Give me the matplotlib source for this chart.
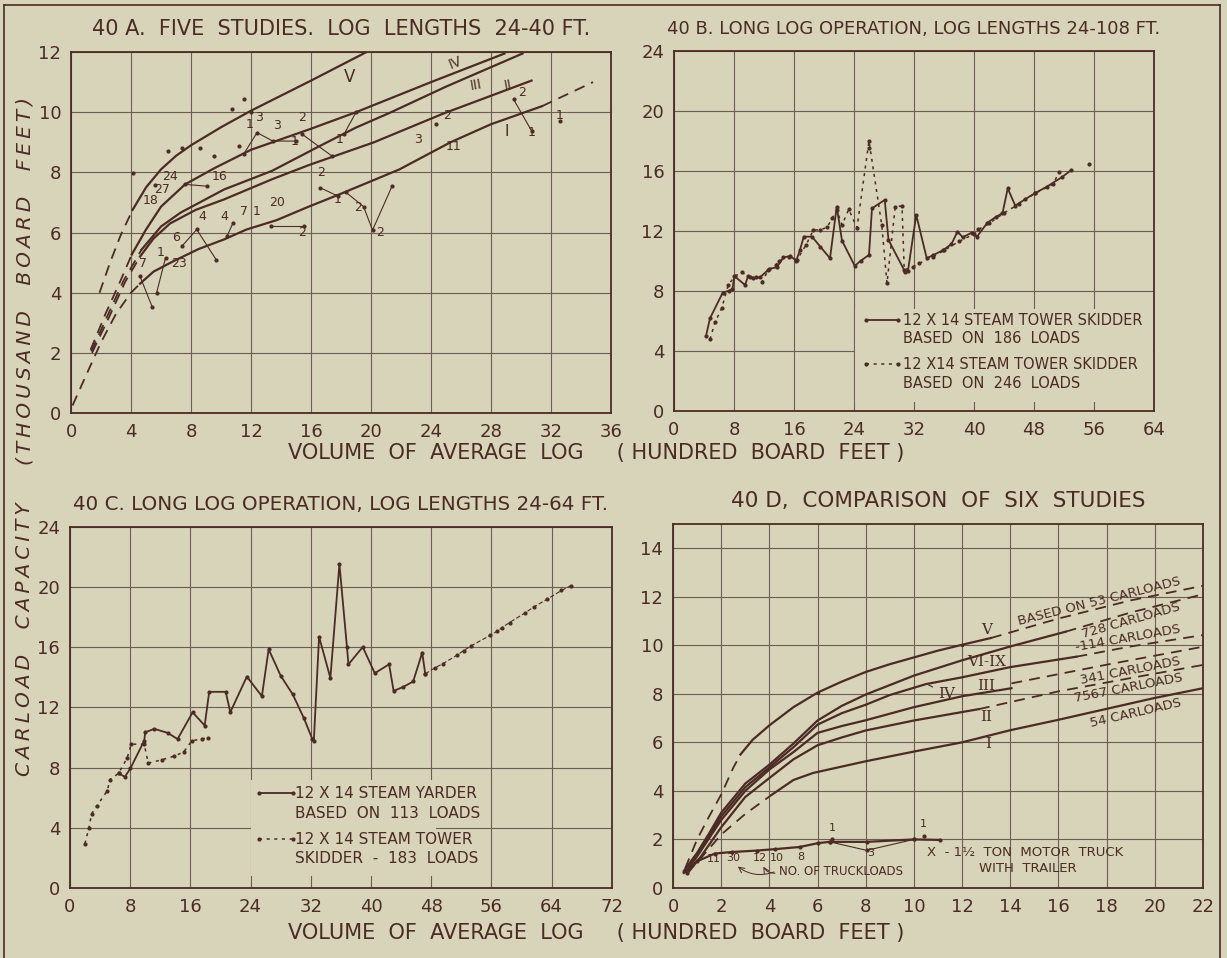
import matplotlib
matplotlib.use("Agg")
import matplotlib.pyplot as plt
from matplotlib.patches import Rectangle
from matplotlib.lines import Line2D

PAPER = "#d7d4ba"
INK = "#4b2b24"
GRID = "#6d5d53"

# ---------------- 40A: five studies ----------------
a_v_dash_x = [1.9, 2.6, 3.3, 4.1]
a_v_dash_y = [4.0, 5.0, 5.9, 6.75]
a_v_x = [4.1, 5.0, 6.0, 7.0, 8.0, 10.0, 12.0, 14.0, 16.0, 19.7]
a_v_y = [6.75, 7.5, 8.1, 8.55, 8.9, 9.5, 10.05, 10.55, 11.05, 12.0]

a_iv_dash_x = [1.3, 2.3, 3.3, 4.05]
a_iv_dash_y = [2.1, 3.3, 4.4, 5.27]
a_iv_x = [4.05, 5.0, 6.0, 7.6, 9.6, 12.0, 16.0, 19.0, 24.0, 28.9]
a_iv_y = [5.27, 6.1, 6.86, 7.6, 8.15, 8.75, 9.45, 10.0, 11.0, 11.95]

a_iii_dash_x = [1.35, 2.4, 3.5, 4.7]
a_iii_dash_y = [2.05, 3.2, 4.4, 5.43]
a_iii_x = [4.7, 6.0, 7.3, 10.2, 13.4, 16.6, 19.0, 21.3, 25.0, 30.1]
a_iii_y = [5.43, 6.2, 6.66, 7.43, 8.05, 8.88, 9.49, 9.99, 10.85, 11.95]

a_ii_dash_x = [1.4, 2.5, 3.6, 4.6]
a_ii_dash_y = [2.0, 3.15, 4.35, 5.2]
a_ii_x = [4.6, 5.5, 6.6, 8.3, 10.2, 13.4, 15.9, 20.2, 24.8, 30.7]
a_ii_y = [5.2, 5.8, 6.3, 6.75, 7.1, 7.77, 8.25, 9.0, 9.95, 11.05]

a_i_dash_x = [0.1, 1.0, 2.0, 3.0, 4.0, 4.6]
a_i_dash_y = [0.25, 1.25, 2.35, 3.3, 4.0, 4.3]
a_i_x = [4.6, 5.5, 6.8, 8.5, 10.2, 11.7, 13.7, 15.8, 17.9, 21.9, 25.3, 28.0, 31.4]
a_i_y = [4.3, 4.7, 5.04, 5.45, 5.77, 6.1, 6.41, 6.85, 7.27, 8.1, 9.0, 9.6, 10.2]
a_i_ext_x = [31.4, 34.8]
a_i_ext_y = [10.2, 11.0]

a_dot_x = [6.47, 7.4, 8.58, 4.1, 9.5, 10.7, 11.5, 11.2, 5.6, 24.3, 32.6, 12.0]
a_dot_y = [8.71, 8.82, 8.82, 7.99, 8.54, 10.1, 10.43, 8.88, 7.57, 9.6, 9.71, 10.0]

a_link_x = [[11.5, 12.4, 13.45, 15.0], [15.4, 17.4], [18.2, 19.0], [7.6, 9.04],
            [7.38, 8.38, 9.67], [10.4, 10.8], [13.3, 15.5], [16.6, 17.8],
            [18.3, 19.5, 20.1, 21.4], [4.6, 5.4], [5.7, 6.3], [29.5, 30.7]]
a_link_y = [[8.6, 9.32, 9.04, 9.04], [9.27, 8.54], [9.27, 10.0], [7.6, 7.54],
            [5.54, 6.1, 5.1], [5.88, 6.32], [6.23, 6.23], [7.49, 7.21],
            [7.35, 6.86, 6.08, 7.54], [4.54, 3.54], [3.99, 5.16], [10.43, 9.38]]

a_num_txt = ["1", "3", "3", "1", "2", "1", "24", "16", "27", "18", "4", "6", "4", "7",
             "1", "20", "2", "2", "1", "2", "2", "7", "1", "23", "3", "2", "11",
             "2", "1", "1"]
a_num_x = [11.9, 12.5, 13.7, 14.9, 15.4, 17.9, 6.6, 9.9, 6.1, 5.3, 8.75, 7.0, 10.2, 11.5,
           12.4, 13.75, 15.4, 16.7, 17.8, 19.15, 20.6, 4.8, 6.0, 7.2, 23.1, 25.05, 25.5,
           30.1, 30.7, 32.6]
a_num_y = [9.38, 9.62, 9.35, 8.82, 9.6, 8.88, 7.64, 7.66, 7.2, 6.86, 6.32, 5.63, 6.3, 6.49,
           6.49, 6.79, 5.79, 7.77, 6.88, 6.6, 5.79, 4.74, 5.12, 4.74, 8.88, 9.68, 8.63,
           10.43, 9.1, 9.68]

# ---------------- 40B: long log operation 24-108 ft ----------------
b_solid_x = [4.27, 4.8, 6.5, 7.38, 7.8, 8.04, 9.47, 9.9, 10.5, 11.47, 12.7, 13.7, 14.6,
             15.5, 16.3, 16.8, 17.3, 18.4, 19.5, 20.8, 21.7, 22.4, 24.1, 24.9, 26.0,
             26.4, 28.1, 28.6, 30.8, 31.2, 32.3, 33.7, 34.6, 35.9, 37.0, 37.8, 38.5,
             39.7, 40.4, 41.8, 43.0, 43.8, 44.5, 45.5, 46.8, 48.1, 49.7, 51.7, 53.0]
b_solid_y = [5.0, 6.18, 7.89, 8.02, 8.11, 9.0, 8.4, 9.0, 8.89, 8.91, 9.47, 9.58, 10.24,
             10.33, 10.02, 10.73, 11.62, 11.62, 10.96, 10.18, 13.62, 11.36, 9.67, 10.02,
             10.4, 13.51, 14.07, 11.4, 9.29, 9.36, 13.07, 10.18, 10.4, 10.73, 11.13,
             11.96, 11.58, 11.89, 11.62, 12.56, 12.96, 13.18, 14.84, 13.69, 14.11,
             14.51, 14.95, 15.58, 16.07]
b_dot_x = [4.8, 5.47, 6.36, 7.24, 8.1, 9.02, 10.1, 11.0, 11.7, 12.58, 13.6, 14.0, 15.4,
           16.4, 17.6, 18.6, 19.5, 20.4, 21.1, 21.7, 22.4, 23.3, 24.4, 26.0, 27.7, 28.4,
           29.5, 30.4, 30.7, 31.9, 32.7, 34.6, 36.0, 38.0, 40.0, 40.6, 42.0, 44.0, 46.0,
           48.1, 50.5, 51.4]
b_dot_y = [4.78, 5.91, 6.84, 8.4, 8.98, 9.24, 8.96, 8.96, 8.58, 9.4, 9.73, 10.02, 10.29,
           10.07, 11.07, 12.07, 12.07, 12.24, 12.84, 13.4, 12.4, 13.44, 12.22, 18.0, 12.4,
           8.51, 13.62, 13.67, 9.4, 9.62, 9.84, 10.29, 10.7, 11.3, 11.8, 12.1, 12.5, 13.2,
           13.8, 14.5, 15.1, 15.96]
b_extra_x = [26.0, 55.3]
b_extra_y = [17.5, 16.47]

# ---------------- 40C: long log operation 24-64 ft ----------------
c_solid_x = [6.46, 7.3, 8.03, 9.87, 10.0, 11.2, 13.0, 14.3, 16.3, 17.9, 18.5, 20.7, 21.3,
             23.5, 25.5, 26.4, 28.0, 29.6, 31.1, 32.2, 32.4, 33.1, 34.6, 35.8, 36.8, 37.0,
             38.9, 40.5, 42.4, 43.0, 44.3, 45.6, 46.8, 47.2]
c_solid_y = [7.62, 7.39, 7.95, 9.79, 10.35, 10.58, 10.31, 9.9, 11.68, 10.8, 13.04, 13.04,
             11.68, 14.05, 12.75, 15.87, 14.11, 12.87, 11.27, 9.9, 9.8, 16.7, 13.96, 21.54,
             16.02, 14.87, 16.02, 14.28, 14.87, 13.1, 13.37, 13.73, 15.65, 14.24]
c_ext_x = [47.2, 48.5, 49.5, 51.4, 52.3, 53.3, 55.8, 56.8, 57.4, 58.4, 60.5, 61.6, 63.4,
           65.3, 66.6]
c_ext_y = [14.24, 14.64, 14.9, 15.47, 15.78, 16.1, 16.79, 17.08, 17.31, 17.65, 18.3,
           18.68, 19.2, 19.78, 20.11]
c_dot_x = [2.0, 2.52, 2.88, 3.57, 4.98, 5.3, 6.46, 7.6, 8.14, 9.87, 10.4, 12.2, 13.8,
           15.1, 16.2, 17.5, 18.4]
c_dot_y = [2.95, 4.02, 4.93, 5.45, 6.48, 7.2, 7.62, 8.64, 9.56, 9.56, 8.3, 8.52, 8.76,
           9.03, 9.79, 9.9, 10.0]

# ---------------- 40D: comparison of six studies ----------------
d_v_dash_x = [0.5, 1.0, 1.5, 2.0, 2.5, 2.8]
d_v_dash_y = [0.8, 2.0, 2.95, 3.85, 4.95, 5.5]
d_v_x = [2.8, 3.3, 4.0, 5.0, 6.0, 7.0, 8.0, 9.0, 10.0, 11.0, 12.0, 13.2]
d_v_y = [5.5, 6.1, 6.7, 7.45, 8.05, 8.5, 8.9, 9.22, 9.5, 9.78, 10.02, 10.3]
d_v_ext_x = [13.2, 16.0, 19.0, 22.0]
d_v_ext_y = [10.3, 11.1, 11.85, 12.45]

d_vi_x = [0.45, 1.0, 1.5, 2.0, 3.0, 4.0, 5.0, 6.0, 7.0, 8.0, 10.0, 12.0, 14.0, 16.3]
d_vi_y = [0.7, 1.45, 2.25, 3.1, 4.3, 5.08, 5.95, 6.9, 7.5, 7.97, 8.75, 9.38, 9.95, 10.56]
d_vi_ext_x = [16.3, 19.0, 22.0]
d_vi_ext_y = [10.56, 11.35, 12.1]

d_iv_x = [0.45, 1.0, 1.5, 2.0, 3.0, 4.0, 5.0, 6.0, 7.0, 8.0, 9.0, 10.5, 12.0, 14.0, 16.75]
d_iv_y = [0.65, 1.35, 2.15, 2.95, 4.15, 4.97, 5.8, 6.73, 7.2, 7.55, 7.95, 8.4, 8.68, 9.1,
          9.53]
d_iv_ext_x = [16.75, 19.0, 22.0]
d_iv_ext_y = [9.53, 9.95, 10.42]

d_iii_x = [0.45, 1.0, 1.5, 2.0, 3.0, 4.0, 5.0, 6.0, 7.0, 8.0, 10.0, 12.0, 14.05]
d_iii_y = [0.62, 1.3, 2.05, 2.8, 4.0, 4.88, 5.6, 6.39, 6.67, 6.91, 7.45, 7.9, 8.23]
d_iii_ext_x = [14.05, 18.0, 22.0]
d_iii_ext_y = [8.43, 9.2, 9.94]

d_ii_x = [0.5, 1.12, 2.0, 3.0, 4.0, 5.0, 6.0, 7.0, 8.0, 10.0, 12.7]
d_ii_y = [0.66, 1.24, 2.5, 3.75, 4.53, 5.3, 5.88, 6.2, 6.49, 6.9, 7.37]
d_ii_ext_x = [12.7, 16.0, 19.0, 22.0]
d_ii_ext_y = [7.37, 8.1, 8.65, 9.19]

d_i_dash_x = [0.55, 1.0, 2.0, 3.0, 4.1]
d_i_dash_y = [0.62, 1.05, 2.2, 3.05, 3.84]
d_i_x = [4.1, 5.0, 5.82, 7.0, 8.0, 10.0, 12.0, 14.0, 16.0, 18.0, 20.0, 22.0]
d_i_y = [3.84, 4.45, 4.74, 5.0, 5.22, 5.62, 6.0, 6.5, 6.93, 7.38, 7.83, 8.23]

d_x_x = [0.6, 1.0, 1.74, 2.43, 3.47, 4.23, 5.27, 6.03, 6.51, 8.04, 10.0, 11.08]
d_x_y = [0.6, 1.1, 1.42, 1.48, 1.54, 1.6, 1.69, 1.85, 1.9, 1.9, 2.0, 1.98]
d_dip_x = [6.51, 8.04, 10.0]
d_dip_y = [1.9, 1.55, 2.0]
d_extra_x = [6.6, 10.41]
d_extra_y = [2.02, 2.15]

d_truck_txt = ["11", "30", "12", "10", "8", "3", "1", "1"]
d_truck_x = [1.7, 2.5, 3.6, 4.3, 5.3, 8.2, 6.6, 10.4]
d_truck_y = [1.05, 1.12, 1.12, 1.12, 1.15, 1.3, 2.35, 2.5]

d_load_txt = ["BASED ON 53 CARLOADS", "728 CARLOADS", "-114 CARLOADS",
              "341 CARLOADS", "7567 CARLOADS", "54 CARLOADS"]
d_load_x = [17.7, 19.0, 18.9, 19.0, 18.9, 19.2]
d_load_y = [11.8, 11.0, 10.3, 8.95, 8.25, 7.2]
d_load_rot = [14, 16, 10, 11, 11, 13]

d_roman_txt = ["V", "VI-IX", "III", "II", "I"]
d_roman_x = [13.0, 13.0, 13.0, 13.0, 13.07]
d_roman_y = [10.63, 9.32, 8.33, 7.05, 5.92]

DASH = (0, (6, 4))

plt.rcParams["font.family"] = ["DejaVu Sans"]
plt.rcParams["text.color"] = INK
plt.rcParams["axes.edgecolor"] = INK
plt.rcParams["xtick.color"] = INK
plt.rcParams["ytick.color"] = INK

fig = plt.figure(figsize=(12.27, 9.58), dpi=100)
fig.patch.set_facecolor(PAPER)

axA = fig.add_axes([0.0579, 0.5689, 0.4401, 0.3768])
axB = fig.add_axes([0.5493, 0.5710, 0.3912, 0.3758])
axC = fig.add_axes([0.0570, 0.0731, 0.4417, 0.3768])
axD = fig.add_axes([0.5485, 0.0731, 0.4319, 0.3800])


def setup(ax, xmax, xstep, ymax, ystep, ytop, title, tsize):
    ax.set_facecolor(PAPER)
    ax.set_xlim(0, xmax)
    ax.set_ylim(0, ytop)
    ax.set_xticks(range(0, xmax + 1, xstep))
    ax.set_yticks(range(0, ymax + 1, ystep))
    ax.grid(True, color=GRID, lw=0.8)
    ax.set_axisbelow(True)
    ax.tick_params(length=0, labelsize=13, pad=7)
    for s in ax.spines.values():
        s.set_linewidth(1.3)
    ax.set_title(title, fontsize=tsize, pad=12)


def spaced(words):
    # wide lettering like the hand-drawn original
    return "    ".join("\u2009".join(w) for w in words)


setup(axA, 36, 4, 12, 2, 12, "40 A.  FIVE  STUDIES.  LOG  LENGTHS  24-40 FT.", 15)
setup(axB, 64, 8, 24, 4, 24, "40 B. LONG LOG OPERATION, LOG LENGTHS 24-108 FT.", 13)
setup(axC, 72, 8, 24, 4, 24, "40 C. LONG LOG OPERATION, LOG LENGTHS 24-64 FT.", 14.3)
setup(axD, 22, 2, 14, 2, 15, "40 D,  COMPARISON  OF  SIX  STUDIES", 15.5)

# --- A ---
for dx, dy, sx, sy in [(a_v_dash_x, a_v_dash_y, a_v_x, a_v_y),
                       (a_iv_dash_x, a_iv_dash_y, a_iv_x, a_iv_y),
                       (a_iii_dash_x, a_iii_dash_y, a_iii_x, a_iii_y),
                       (a_ii_dash_x, a_ii_dash_y, a_ii_x, a_ii_y),
                       (a_i_dash_x, a_i_dash_y, a_i_x, a_i_y)]:
    axA.plot(dx, dy, color=INK, lw=1.3, ls=DASH)
    axA.plot(sx, sy, color=INK, lw=1.6)
axA.plot(a_i_ext_x, a_i_ext_y, color=INK, lw=1.3, ls=DASH)
axA.plot(a_dot_x, a_dot_y, ".", color=INK, ms=4)
for lx, ly in zip(a_link_x, a_link_y):
    axA.plot(lx, ly, color=INK, lw=0.8, marker=".", ms=4)
for t, x, y in zip(a_num_txt, a_num_x, a_num_y):
    axA.text(x, y, t, fontsize=9, ha="center", va="bottom")
axA.text(18.2, 11.0, "V", fontsize=12)
axA.text(25.0, 11.45, "IV", fontsize=10, rotation=22)
axA.text(26.5, 10.75, "III", fontsize=10, rotation=10)
axA.text(28.8, 10.75, "II", fontsize=10, rotation=10)
axA.text(28.9, 9.2, "I", fontsize=11)

# --- B ---
axB.plot(b_solid_x, b_solid_y, color=INK, lw=1.3, marker=".", ms=4)
axB.plot(b_dot_x, b_dot_y, color=INK, lw=1.1, ls=(0, (2, 3)), marker=".", ms=4)
axB.plot(b_extra_x, b_extra_y, ".", color=INK, ms=4)
axB.add_patch(Rectangle((24.1, 0.6), 39.8, 6.2, facecolor=PAPER, edgecolor="none",
                        zorder=1))
axB.plot([25.6, 29.9], [6.05, 6.05], color=INK, lw=1.3, marker=".", ms=4)
axB.plot([25.6, 29.9], [3.1, 3.1], color=INK, lw=1.1, ls=(0, (2, 3)), marker=".", ms=4)
for y, t in [(6.05, "12 X 14 STEAM TOWER SKIDDER"), (4.85, "BASED  ON  186  LOADS"),
             (3.1, "12 X14 STEAM TOWER SKIDDER"), (1.8, "BASED  ON  246  LOADS")]:
    axB.text(30.5, y, t, fontsize=10.5, va="center")

# --- C ---
axC.plot(c_solid_x, c_solid_y, color=INK, lw=1.3, marker=".", ms=4)
axC.plot(c_ext_x, c_ext_y, color=INK, lw=0.8, ls=(0, (4, 2)), marker=".", ms=4)
axC.plot(c_dot_x, c_dot_y, color=INK, lw=1.1, ls=(0, (2, 3)), marker=".", ms=4)
axC.add_patch(Rectangle((24.1, 0.8), 24.5, 6.4, facecolor=PAPER, edgecolor="none",
                        zorder=1))
axC.plot([25.1, 29.6], [6.3, 6.3], color=INK, lw=1.3, marker=".", ms=4)
axC.plot([25.1, 29.6], [3.24, 3.24], color=INK, lw=1.1, ls=(0, (2, 3)), marker=".", ms=4)
for y, t in [(6.3, "12 X 14 STEAM YARDER"), (4.93, "BASED  ON  113  LOADS"),
             (3.24, "12 X 14 STEAM TOWER"), (1.96, "SKIDDER  -  183  LOADS")]:
    axC.text(29.9, y, t, fontsize=11, va="center")

# --- D ---
axD.plot(d_v_dash_x, d_v_dash_y, color=INK, lw=1.3, ls=DASH)
axD.plot(d_v_x, d_v_y, color=INK, lw=1.6, marker=".", ms=3, markevery=[4, 10])
axD.plot(d_i_dash_x, d_i_dash_y, color=INK, lw=1.3, ls=DASH)
axD.plot(d_i_x, d_i_y, color=INK, lw=1.6)
for sx, sy in [(d_vi_x, d_vi_y), (d_iv_x, d_iv_y), (d_iii_x, d_iii_y), (d_ii_x, d_ii_y)]:
    axD.plot(sx, sy, color=INK, lw=1.6)
for ex, ey in [(d_v_ext_x, d_v_ext_y), (d_vi_ext_x, d_vi_ext_y), (d_iv_ext_x, d_iv_ext_y),
               (d_iii_ext_x, d_iii_ext_y), (d_ii_ext_x, d_ii_ext_y)]:
    axD.plot(ex, ey, color=INK, lw=1.3, ls=DASH)
axD.plot(d_x_x, d_x_y, color=INK, lw=1.6, marker=".", ms=4)
axD.plot(d_dip_x, d_dip_y, color=INK, lw=0.8, marker=".", ms=4)
axD.plot(d_extra_x, d_extra_y, ".", color=INK, ms=4)
for t, x, y in zip(d_truck_txt, d_truck_x, d_truck_y):
    axD.text(x, y, t, fontsize=8, ha="center")
axD.text(4.4, 0.69, "NO. OF TRUCKLOADS", fontsize=8.5, va="center")
axD.annotate("", xy=(2.6, 0.95), xytext=(4.3, 0.7),
             arrowprops=dict(arrowstyle="->", color=INK, lw=0.7,
                             connectionstyle="arc3,rad=-0.3"))
axD.annotate("", xy=(3.7, 0.98), xytext=(4.35, 0.62),
             arrowprops=dict(arrowstyle="->", color=INK, lw=0.7,
                             connectionstyle="arc3,rad=-0.4"))
axD.text(10.55, 1.45, "X  - 1½  TON  MOTOR  TRUCK", fontsize=9.5, va="center")
axD.text(12.7, 0.82, "WITH  TRAILER", fontsize=9.5, va="center")
for t, x, y, r in zip(d_load_txt, d_load_x, d_load_y, d_load_rot):
    axD.text(x, y, t, fontsize=9.5, rotation=r, ha="center", va="center",
             rotation_mode="anchor")
for t, x, y in zip(d_roman_txt, d_roman_x, d_roman_y):
    axD.text(x, y, t, fontsize=11, family="DejaVu Serif", ha="center", va="center")
axD.annotate("IV", xy=(10.5, 8.42), xytext=(11.0, 8.0), fontsize=11,
             family="DejaVu Serif", va="center",
             arrowprops=dict(arrowstyle="-", color=INK, lw=0.8))

# --- shared labels ---
xl = "VOLUME  OF  AVERAGE  LOG     ( HUNDRED  BOARD  FEET )"
fig.text(0.486, 0.527, xl, fontsize=15, ha="center", va="center")
fig.text(0.486, 0.026, xl, fontsize=15, ha="center", va="center")
fig.text(0.020, 0.333, spaced(["CARLOAD", "CAPACITY"]), fontsize=14.5,
         style="italic", rotation=90, ha="center", va="center")
fig.text(0.020, 0.707, spaced(["(THOUSAND", "BOARD", "FEET)"]), fontsize=14.5,
         style="italic", rotation=90, ha="center", va="center")

# page border
for xs, ys in [([0.0035, 0.0035], [0.0, 0.995]), ([0.994, 0.994], [0.0, 0.995]),
               ([0.0035, 0.994], [0.995, 0.995])]:
    fig.add_artist(Line2D(xs, ys, color=INK, lw=1.2))

fig.savefig("out.png", dpi=100, facecolor=PAPER)
